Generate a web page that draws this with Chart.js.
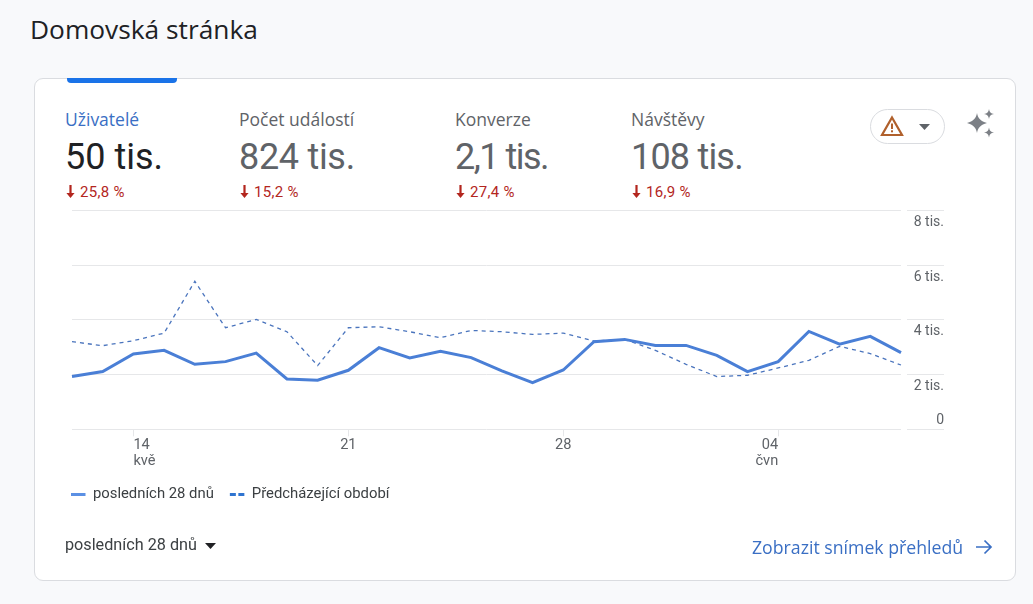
<!DOCTYPE html>
<html lang="cs">
<head>
<meta charset="utf-8">
<title>Domovská stránka</title>
<script src="https://cdn.jsdelivr.net/npm/chart.js@4"></script>
<style>
html,body{margin:0;padding:0;width:1033px;height:604px;overflow:hidden;background:#f8f9fb;font-family:Roboto,sans-serif}
.abs{position:absolute;white-space:nowrap;line-height:1}
#card{position:absolute;left:34px;top:78px;width:982px;height:503px;background:#fff;border:1px solid #dadce0;border-radius:9px;box-sizing:border-box}
#tab{position:absolute;left:67px;top:78px;width:110px;height:5px;background:#1a73e8;border-radius:0 0 4px 4px}
#title{left:30px;top:15px;font:26.300px "Open Sans",sans-serif;color:#202124;line-height:28px}
.lab{font:17.500px "Open Sans",sans-serif;color:#5f6368;top:110px;line-height:18px}
.val{font:36px Roboto,sans-serif;color:#5f6368;top:139px;line-height:36px}
.chg{font:15px Roboto,sans-serif;letter-spacing:.3px;color:#b3261e;top:184px;line-height:16px;padding-left:15px}
.chg svg{position:absolute;left:0;top:1px}
#chartWrap{position:absolute;left:0;top:0;width:1033px;height:604px}
#chip{position:absolute;left:870px;top:109px;width:75px;height:35px;border:1px solid #dadce0;border-radius:18px;box-sizing:border-box}
</style>
</head>
<body>
<div id="card"></div>
<div id="tab"></div>
<div id="title" class="abs">Domovská stránka</div>

<div class="abs lab" style="left:65px;color:#3a6fc4">Uživatelé</div>
<div class="abs val" style="left:65px;color:#202124">50 tis.</div>
<div class="abs chg" style="left:65px"><svg width="11" height="13" viewBox="0 0 11 13"><path d="M4.4 0h2.2v8h3L5.5 13 1.4 8h3z" fill="#b3261e"/></svg>25,8 %</div>

<div class="abs lab" style="left:239px">Počet událostí</div>
<div class="abs val" style="left:239px;letter-spacing:-.3px">824 tis.</div>
<div class="abs chg" style="left:239px"><svg width="11" height="13" viewBox="0 0 11 13"><path d="M4.4 0h2.2v8h3L5.5 13 1.4 8h3z" fill="#b3261e"/></svg>15,2 %</div>

<div class="abs lab" style="left:455px">Konverze</div>
<div class="abs val" style="left:455px;letter-spacing:-1.500px">2,1 tis.</div>
<div class="abs chg" style="left:455px"><svg width="11" height="13" viewBox="0 0 11 13"><path d="M4.4 0h2.2v8h3L5.5 13 1.4 8h3z" fill="#b3261e"/></svg>27,4 %</div>

<div class="abs lab" style="left:631px">Návštěvy</div>
<div class="abs val" style="left:631px;letter-spacing:-.8px">108 tis.</div>
<div class="abs chg" style="left:631px"><svg width="11" height="13" viewBox="0 0 11 13"><path d="M4.4 0h2.2v8h3L5.5 13 1.4 8h3z" fill="#b3261e"/></svg>16,9 %</div>

<div id="chip"></div>
<svg class="abs" style="left:880px;top:115px" width="24" height="22" viewBox="0 0 24 22"><path d="M12 2.5 22 20H2z" fill="none" stroke="#b0602c" stroke-width="2.2" stroke-linejoin="miter"/><rect x="11" y="8.5" width="2" height="5.5" fill="#b0602c"/><rect x="11" y="15.3" width="2" height="2" fill="#b0602c"/></svg>
<svg class="abs" style="left:919px;top:124px" width="11" height="6" viewBox="0 0 11 6"><path d="M0 0h11L5.500 6z" fill="#5f6368"/></svg>
<svg class="abs" style="left:966px;top:109px" width="30" height="30" viewBox="0 0 30 30"><g fill="#7c8086"><path d="M11 4c.8 5.200 3.800 8.200 10 10-6.200 1.800-9.200 4.800-10 10-.8-5.200-3.800-8.200-10-10 6.200-1.800 9.200-4.800 10-10z"/><path d="M23 0c.4 3 1.800 4.400 5 5-3.200.6-4.600 2-5 5-.4-3-1.800-4.400-5-5 3.200-.6 4.600-2 5-5z"/><path d="M23 18.500c.4 3 1.800 4.400 5 5-3.200.6-4.600 2-5 5-.4-3-1.800-4.400-5-5 3.200-.6 4.600-2 5-5z"/></g></svg>

<div id="chartWrap"><canvas id="c" width="1033" height="604"></canvas></div>

<div class="abs" style="left:65px;top:537px;font:16.200px Roboto,sans-serif;color:#3c4043;line-height:16px">posledních 28 dnů</div>
<svg class="abs" style="left:205px;top:543px" width="11" height="6" viewBox="0 0 11 6"><path d="M0 0h11L5.500 6z" fill="#202124"/></svg>
<div class="abs" style="left:752px;top:538px;font:17.700px 'Open Sans',sans-serif;color:#3a6fc4;line-height:18px">Zobrazit snímek přehledů</div>
<svg class="abs" style="left:975px;top:538px" width="18" height="18" viewBox="0 0 18 18"><path d="M1 9h15M9.500 2.500 16 9l-6.500 6.500" fill="none" stroke="#3a6fc4" stroke-width="1.700"/></svg>

<script>
const dates = ['12','13','14','15','16','17','18','19','20','21','22','23','24','25','26','27','28','29','30','31','01','02','03','04','05','06','07','08'];
const shownTicks = ['14','21','28','04'];
const monthNames = {'14':'kvě','04':'čvn'};
const currentUsers = [1931,2113,2754,2889,2379,2477,2791,1843,1796,2160,2987,2608,2852,2623,2135,1712,2171,3206,3290,3071,3071,2707,2113,2477,3581,3118,3399,2805];
const previousUsers = [3206,3060,3242,3519,5413,3716,4018,3570,2332,3716,3752,3570,3352,3617,3570,3472,3519,3228,3290,2889,2379,1931,1978,2244,2525,3035,2769,2353];
const seriesNames = ['posledních 28 dnů','Předcházející období'];
const yLabels = {0:'0',2000:'2 tis.',4000:'4 tis.',6000:'6 tis.',8000:'8 tis.'};

const lineBlue = '#4a7fd6';
const legendDash = [[15,100],[6,2.500,6]];
const gridColor = '#e6e7e9';
const tickText = '#5f6368';
const legendGap = 16;

const placeLabels = {
  id:'placeLabels',
  beforeDraw(chart){
    const y = chart.scales.y, x = chart.scales.x;
    chart.legend.left = chart.chartArea.left - 1 - legendGap;
    y.getLabelItems().forEach(it=>{
      const isZero = it.label === yLabels[0];
      const val = Object.keys(yLabels).find(k=>yLabels[k]===it.label);
      it.options.textAlign = 'right';
      it.options.translation = [944, y.getPixelForValue(+val) + (isZero ? -9 : 11.800)];
    });
    x.getLabelItems().forEach(it=>{
      const head = Array.isArray(it.label) ? it.label[0] : it.label;
      const px = x.getPixelForValue(dates.indexOf(head));
      if (head === '14') { it.options.textAlign = 'left'; it.options.translation[0] = px; }
      if (head === '04') { it.options.textAlign = 'right'; it.options.translation[0] = px; }
    });
  }
};

new Chart(document.getElementById('c'),{
  type:'line',
  data:{labels:dates,datasets:[
    {label:seriesNames[0],data:currentUsers,borderColor:lineBlue,borderWidth:3,pointRadius:0,tension:0,borderJoinStyle:'miter',order:1},
    {label:seriesNames[1],data:previousUsers,borderColor:'#4a74bd',borderWidth:1.300,borderDash:[4,4],pointRadius:0,tension:0,order:2}
  ]},
  plugins:[placeLabels],
  options:{
    responsive:false,animation:false,devicePixelRatio:1,
    layout:{padding:{left:72,top:210.600,right:89,bottom:92}},
    plugins:{
      tooltip:{enabled:false},
      title:{display:false},
      legend:{
        position:'bottom',align:'start',
        labels:{
          font:{family:'Roboto',size:14.850},color:'#3c4043',padding:legendGap,boxHeight:14,
          usePointStyle:true,pointStyle:'line',pointStyleWidth:14.500,
          generateLabels(chart){
            return chart.data.datasets.map((d,i)=>({
              text:d.label,datasetIndex:i,fontColor:'#3c4043',fillStyle:'transparent',
              strokeStyle:i===0?'#5b90e4':'#2f74d0',lineWidth:3,pointStyle:'line',lineDash:legendDash[i],hidden:false
            }));
          }
        }
      }
    },
    scales:{
      x:{
        type:'category',offset:false,
        afterFit(s){s.height=41.800;},
        border:{display:false},
        grid:{drawOnChartArea:false,drawTicks:true,tickLength:7,
          tickColor:c=>shownTicks.includes(dates[c.index])?gridColor:'transparent'},
        ticks:{autoSkip:false,maxRotation:0,minRotation:0,padding:1,color:tickText,
          font:{family:'Roboto',size:14.600,lineHeight:1.100},
          callback(v,i){const d=dates[i];if(!shownTicks.includes(d))return '';return monthNames[d]?[d,monthNames[d]]:d;}}
      },
      y:{
        type:'linear',position:'right',min:0,max:8000,
        afterFit(s){s.width=43;},
        border:{display:false},
        grid:{color:gridColor,lineWidth:1,drawTicks:true,tickLength:43,tickColor:gridColor,tickBorderDash:[0,6,37,0]},
        ticks:{stepSize:2000,color:tickText,font:{family:'Roboto',size:14},padding:0,callback:v=>yLabels[v]}
      }
    }
  }
});
</script>
</body>
</html>
